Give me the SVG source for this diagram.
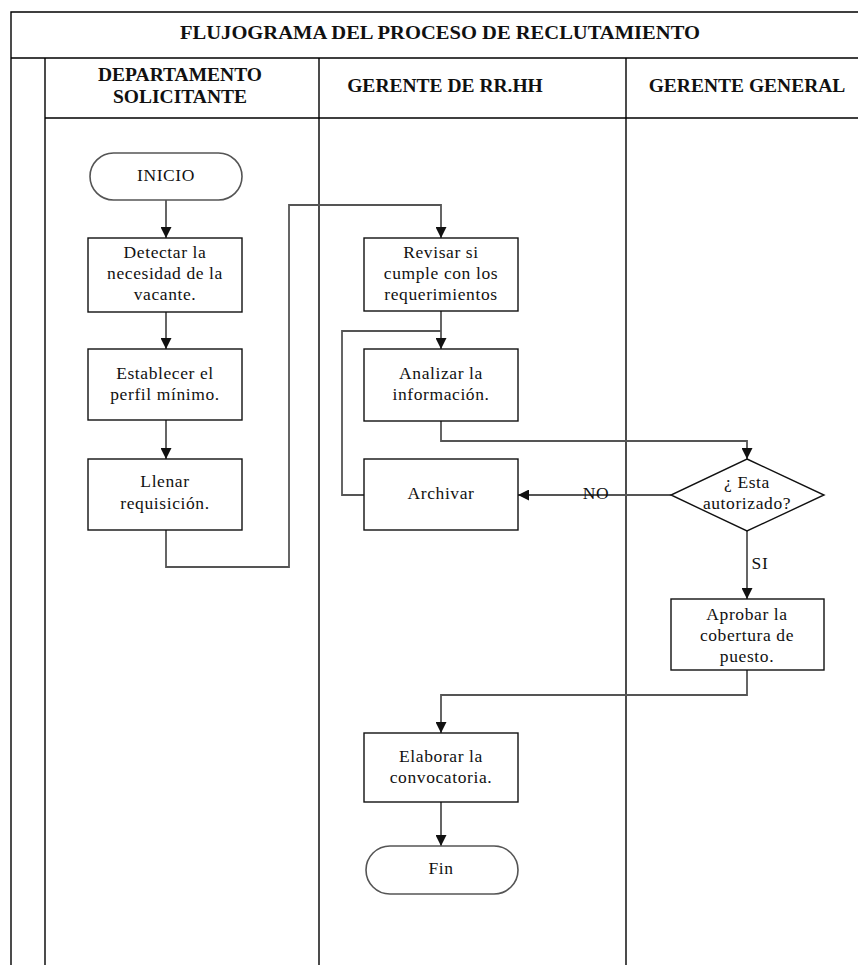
<svg xmlns="http://www.w3.org/2000/svg" width="858" height="965" viewBox="0 0 858 965">
  <defs>
    <style>
      .frame { fill: none; stroke: #000; stroke-width: 1.4; }
      .box { fill: #fff; stroke: #111; stroke-width: 1.4; }
      .term { fill: #fff; stroke: #555; stroke-width: 1.6; }
      .conn { fill: none; stroke: #555; stroke-width: 1.8; }
      .txt { font-family: "Liberation Serif", "Times New Roman", serif; font-size: 17.5px; letter-spacing: 0.6px; fill: #111; text-anchor: middle; dominant-baseline: middle; }
      .hdr { font-family: "Liberation Serif", "Times New Roman", serif; font-size: 19.5px; font-weight: bold; fill: #111; text-anchor: middle; dominant-baseline: middle; }
    </style>
    <marker id="arrow" viewBox="0 0 10 10" refX="10" refY="5" markerWidth="11" markerHeight="11" markerUnits="userSpaceOnUse" orient="auto">
      <path d="M0,0 L10,5 L0,10 Z" fill="#111"/>
    </marker>
  </defs>
  <rect width="858" height="965" fill="#fff"/>

  <!-- Swimlane table -->
  <g id="table">
    <path class="frame" d="M11,965 V12 H858 M11,58 H858 M45,118 H858 M45,58 V965 M319,58 V965 M626,58 V965"/>
    <text class="hdr" x="440" y="35" textLength="520" lengthAdjust="spacingAndGlyphs">FLUJOGRAMA DEL PROCESO DE RECLUTAMIENTO</text>
    <text class="hdr" x="180" y="77">DEPARTAMENTO</text>
    <text class="hdr" x="180" y="99">SOLICITANTE</text>
    <text class="hdr" x="445" y="88">GERENTE DE RR.HH</text>
    <text class="hdr" x="747" y="88">GERENTE GENERAL</text>
  </g>

  <!-- Connectors -->
  <g id="connectors">
    <path class="conn" d="M166,200 V238" marker-end="url(#arrow)"/>
    <path class="conn" d="M166,312 V349" marker-end="url(#arrow)"/>
    <path class="conn" d="M166,420 V459" marker-end="url(#arrow)"/>
    <path class="conn" d="M166,530 V567 H289 V205 H441 V238" marker-end="url(#arrow)"/>
    <path class="conn" d="M441,311 V349" marker-end="url(#arrow)"/>
    <path class="conn" d="M364,495 H342 V331 H441"/>
    <path class="conn" d="M441,421 V441 H747 V459" marker-end="url(#arrow)"/>
    <path class="conn" d="M671,495 H518" marker-end="url(#arrow)"/>
    <path class="conn" d="M747,531 V599" marker-end="url(#arrow)"/>
    <path class="conn" d="M747,670 V695 H441 V733" marker-end="url(#arrow)"/>
    <path class="conn" d="M441,802 V846" marker-end="url(#arrow)"/>
    <text class="txt" x="596" y="495">NO</text>
    <text class="txt" x="760" y="565">SI</text>
  </g>

  <g id="inicio">
    <rect class="term" x="90" y="153" width="152" height="47" rx="23.5"/>
    <text class="txt" x="166" y="177">INICIO</text>
  </g>
  <g id="detectar">
    <rect class="box" x="88" y="238" width="154" height="74"/>
    <text class="txt" x="165" y="254">Detectar  la</text>
    <text class="txt" x="165" y="275">necesidad  de la</text>
    <text class="txt" x="165" y="296">vacante.</text>
  </g>
  <g id="establecer">
    <rect class="box" x="88" y="349" width="154" height="71"/>
    <text class="txt" x="165" y="375">Establecer  el</text>
    <text class="txt" x="165" y="396">perfil mínimo.</text>
  </g>
  <g id="llenar">
    <rect class="box" x="88" y="459" width="154" height="71"/>
    <text class="txt" x="165" y="483">Llenar</text>
    <text class="txt" x="165" y="505">requisición.</text>
  </g>
  <g id="revisar">
    <rect class="box" x="364" y="238" width="154" height="73"/>
    <text class="txt" x="441" y="254">Revisar si</text>
    <text class="txt" x="441" y="275">cumple  con los</text>
    <text class="txt" x="441" y="296">requerimientos</text>
  </g>
  <g id="analizar">
    <rect class="box" x="364" y="349" width="154" height="72"/>
    <text class="txt" x="441" y="375">Analizar  la</text>
    <text class="txt" x="441" y="396">información.</text>
  </g>
  <g id="archivar">
    <rect class="box" x="364" y="459" width="154" height="71"/>
    <text class="txt" x="441" y="495">Archivar</text>
  </g>
  <g id="autorizado">
    <polygon class="box" points="747,459 824,495 747,531 671,495"/>
    <text class="txt" x="747" y="484">¿ Esta</text>
    <text class="txt" x="747" y="505">autorizado?</text>
  </g>
  <g id="aprobar">
    <rect class="box" x="671" y="599" width="153" height="71"/>
    <text class="txt" x="747" y="616">Aprobar la</text>
    <text class="txt" x="747" y="637">cobertura  de</text>
    <text class="txt" x="747" y="658">puesto.</text>
  </g>
  <g id="elaborar">
    <rect class="box" x="364" y="733" width="154" height="69"/>
    <text class="txt" x="441" y="758">Elaborar  la</text>
    <text class="txt" x="441" y="779">convocatoria.</text>
  </g>
  <g id="fin">
    <rect class="term" x="366" y="846" width="152" height="48" rx="24"/>
    <text class="txt" x="441" y="870">Fin</text>
  </g>
</svg>
